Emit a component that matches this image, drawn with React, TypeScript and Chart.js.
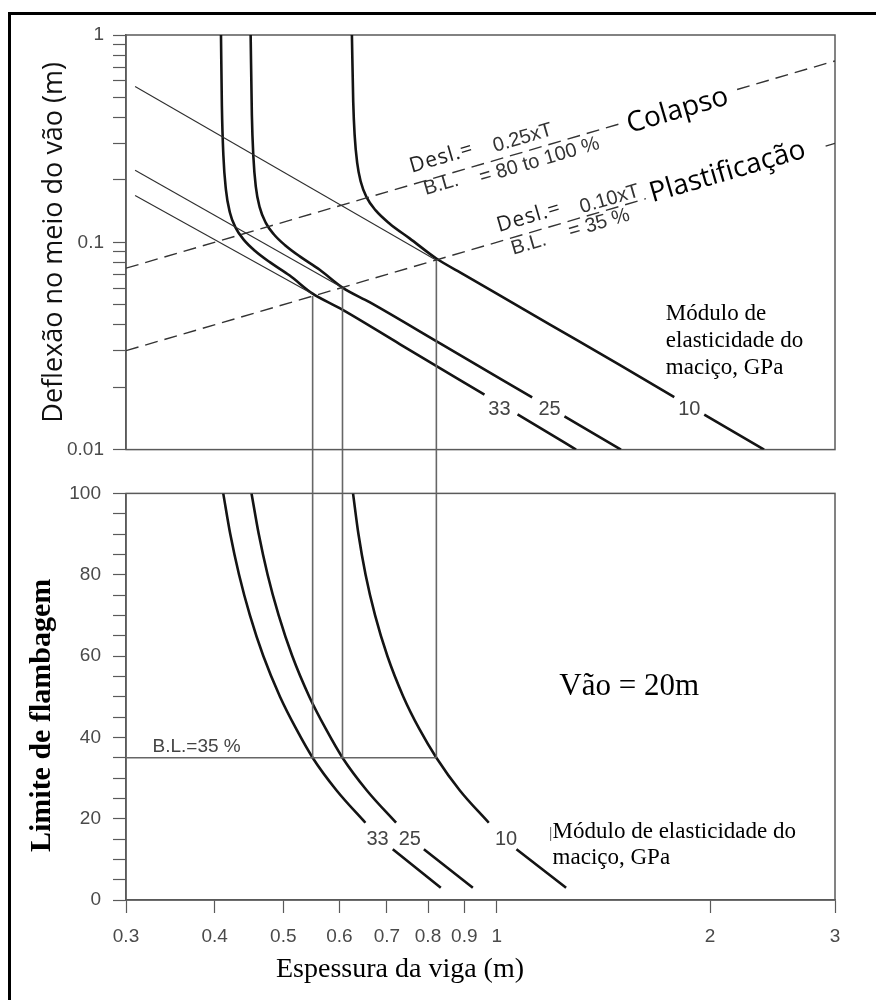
import React, { useEffect, useRef } from 'react';
import { Chart, registerables } from 'chart.js';

Chart.register(...registerables);

// ---------------- data ----------------
const X_TICKS = [0.3, 0.4, 0.5, 0.6, 0.7, 0.8, 0.9, 1, 2, 3];
const TOP_Y_TICKS = [0.01, 0.02, 0.03, 0.04, 0.05, 0.06, 0.07, 0.08, 0.09, 0.1, 0.2, 0.3, 0.4, 0.5, 0.6, 0.7, 0.8, 0.9, 1];
const TOP_Y_LABELS = [0.01, 0.1, 1];
const BOTTOM_Y_TICKS = [0, 5, 10, 15, 20, 25, 30, 35, 40, 45, 50, 55, 60, 65, 70, 75, 80, 85, 90, 95, 100];
const BOTTOM_Y_LABELS = [0, 20, 40, 60, 80, 100];
const MODULI = ['33', '25', '10'];

// Deflection at mid-span (m) vs beam thickness (m), one bold curve per modulus (null = label gap)
const DEFL_33_X = [0.4084, 0.4096, 0.4116, 0.415, 0.4204, 0.4286, 0.4399, 0.4559, 0.4786, 0.5106, 0.55, 0.6005, 0.7297, 0.961, 1.0, 1.07, 1.294];
const DEFL_33_Y = [1, 0.4539, 0.2622, 0.1795, 0.1393, 0.117, 0.1028, 0.0911, 0.0802, 0.0691, 0.0565, 0.0481, 0.0323, 0.0184, null, 0.0148, 0.01];
const DEFL_25_X = [0.4497, 0.4515, 0.4537, 0.4573, 0.4633, 0.4724, 0.4848, 0.5024, 0.5275, 0.5628, 0.606, 0.6617, 0.8309, 1.122, 1.18, 1.246, 1.497];
const DEFL_25_Y = [1, 0.4099, 0.2594, 0.1856, 0.1469, 0.1242, 0.1094, 0.0971, 0.0855, 0.0737, 0.0605, 0.0514, 0.0326, 0.01784, null, 0.01445, 0.01];
const DEFL_10_X = [0.6248, 0.6275, 0.6305, 0.6357, 0.6429, 0.6555, 0.675, 0.7064, 0.7536, 0.822, 0.9002, 1.1872, 1.4905, 1.78, 1.87, 1.962, 2.383];
const DEFL_10_Y = [1, 0.4757, 0.3262, 0.2408, 0.1965, 0.1646, 0.1425, 0.123, 0.1045, 0.0835, 0.0697, 0.0402, 0.0256, 0.0179, null, 0.01475, 0.01];

// Thin elastic asymptotes
const THIN_33_X = [0.309, 0.55];
const THIN_33_Y = [0.1683, 0.0563];
const THIN_25_X = [0.309, 0.606];
const THIN_25_Y = [0.2225, 0.0603];
const THIN_10_X = [0.309, 0.822];
const THIN_10_Y = [0.564, 0.082];

// Dashed criteria lines (Desl. = 0.25 x T and 0.10 x T), gap where the caption sits
const COLAPSO_X = [0.3, 1.512, 1.8, 2.183, 3];
const COLAPSO_Y = [0.075, 0.378, null, 0.546, 0.75];
const PLAST_X = [0.3, 1.623, 2.2, 2.91, 3];
const PLAST_Y = [0.03, 0.1623, null, 0.291, 0.3];

// Drop lines linking both panels at B.L. = 35 %
const DROP_X = [0.55, 0.606, 0.822];
const DROP_TOP_Y = [0.055, 0.0606, 0.0822];
const BL_LEVEL = 35;

// Buckling limit (%) vs beam thickness (m)
const BUCK_33_X = [0.4114, 0.4209, 0.4331, 0.4487, 0.4686, 0.4947, 0.5217, 0.55, 0.5942, 0.6528, 0.68, 0.7135, 0.8339];
const BUCK_33_Y = [100, 90, 80, 70, 60, 50, 42, 35, 27, 19, null, 12.5, 3];
const BUCK_25_X = [0.451, 0.4617, 0.4752, 0.4926, 0.5148, 0.5441, 0.5744, 0.606, 0.6555, 0.7212, 0.75, 0.7893, 0.9254];
const BUCK_25_Y = [100, 90, 80, 70, 60, 50, 42, 35, 27, 19, null, 12.5, 3];
const BUCK_10_X = [0.6271, 0.6382, 0.6532, 0.6737, 0.7011, 0.7384, 0.7781, 0.822, 0.8866, 0.9745, 1.02, 1.0662, 1.2527];
const BUCK_10_Y = [100, 90, 80, 70, 60, 50, 42, 35, 27, 19, null, 12.5, 3];

// ---------------- styles ----------------
const AXIS_COLOR = '#5a5a5a';
const TICK_TEXT = '#4a4a4a';
const BOLD = '#141414';
const THIN = '#2e2e2e';
const DROP = '#666666';
const SANS = '"Liberation Sans", Arial, sans-serif';
const OPEN = '"Open Sans", sans-serif';
const SERIF = '"Liberation Serif", "Times New Roman", serif';

const pts = (xs: number[], ys: (number | null)[]) => xs.map((x, i) => ({ x, y: ys[i] }));

const bold = (xs: number[], ys: (number | null)[]) => ({
  data: pts(xs, ys),
  borderColor: BOLD,
  borderWidth: 2.6,
  pointRadius: 0,
  cubicInterpolationMode: 'monotone' as const,
  spanGaps: false,
});
const thin = (xs: number[], ys: (number | null)[], color = THIN, width = 1.1) => ({
  data: pts(xs, ys),
  borderColor: color,
  borderWidth: width,
  pointRadius: 0,
  tension: 0,
  spanGaps: false,
});
const dashed = (xs: number[], ys: (number | null)[]) => ({
  data: pts(xs, ys),
  borderColor: '#333333',
  borderWidth: 1.4,
  borderDash: [13, 7],
  pointRadius: 0,
  tension: 0,
  spanGaps: false,
});

// ---------------- plugins ----------------
const framePlugin = {
  id: 'frame',
  beforeDatasetsDraw(chart: any) {
    const { ctx, chartArea: a } = chart;
    ctx.save();
    ctx.strokeStyle = AXIS_COLOR;
    ctx.lineWidth = 1.5;
    ctx.strokeRect(a.left, a.top, a.right - a.left, a.bottom - a.top);
    ctx.restore();
  },
};

const bridgePlugin = (dir: 'down' | 'up') => ({
  id: 'bridge-' + dir,
  afterDatasetsDraw(chart: any) {
    const { ctx, chartArea: a, scales } = chart;
    ctx.save();
    ctx.strokeStyle = DROP;
    ctx.lineWidth = 1.6;
    DROP_X.forEach((v) => {
      const px = scales.x.getPixelForValue(v);
      ctx.beginPath();
      if (dir === 'down') {
        ctx.moveTo(px, a.bottom);
        ctx.lineTo(px, chart.height);
      } else {
        ctx.moveTo(px, 0);
        ctx.lineTo(px, a.top);
      }
      ctx.stroke();
    });
    ctx.restore();
  },
});

type Note = {
  text: string;
  x: number;
  y: number;
  font: string;
  color?: string;
  align?: CanvasTextAlign;
  along?: { xs: number[]; ys: (number | null)[] };
  spacing?: string;
};

const lineAngle = (chart: any, xs: number[], ys: (number | null)[]) => {
  const { x, y } = chart.scales;
  const n = xs.length - 1;
  return Math.atan2(
    y.getPixelForValue(ys[n]) - y.getPixelForValue(ys[0]),
    x.getPixelForValue(xs[n]) - x.getPixelForValue(xs[0])
  );
};

const notesPlugin = (notes: Note[]) => ({
  id: 'notes',
  afterDatasetsDraw(chart: any) {
    const { ctx, scales } = chart;
    notes.forEach((n) => {
      ctx.save();
      ctx.translate(scales.x.getPixelForValue(n.x), scales.y.getPixelForValue(n.y));
      if (n.along) ctx.rotate(lineAngle(chart, n.along.xs, n.along.ys));
      ctx.font = n.font;
      ctx.fillStyle = n.color || '#111';
      ctx.textAlign = n.align || 'center';
      ctx.textBaseline = 'middle';
      if (n.spacing) (ctx as any).letterSpacing = n.spacing;
      ctx.fillText(n.text, 0, 0);
      ctx.restore();
    });
  },
});

const titlesPlugin = {
  id: 'titles',
  afterDraw(chart: any) {
    const { ctx, chartArea: a } = chart;
    ctx.save();
    ctx.fillStyle = '#000';
    ctx.textAlign = 'center';
    ctx.textBaseline = 'middle';
    ctx.font = `28px ${SERIF}`;
    ctx.fillText('Espessura da viga (m)', a.left + 274, a.bottom + 70);
    ctx.translate(a.left - 84, a.top + 222);
    ctx.rotate(-Math.PI / 2);
    ctx.font = `bold 30px ${SERIF}`;
    ctx.fillText('Limite de flambagem', 0, 0);
    ctx.restore();
  },
};

const COL = { xs: COLAPSO_X, ys: COLAPSO_Y };
const PLA = { xs: PLAST_X, ys: PLAST_Y };

const TOP_NOTES: Note[] = [
  { text: 'Desl.=', x: 0.836, y: 0.256, font: `21px ${OPEN}`, color: '#222', along: COL, spacing: '1px' },
  { text: '0.25xT', x: 1.088, y: 0.318, font: `20px ${SANS}`, color: '#333', along: COL },
  { text: 'B.L.', x: 0.835, y: 0.1894, font: `20px ${SANS}`, color: '#333', along: COL },
  { text: '= 80 to 100 %', x: 1.149, y: 0.2477, font: `20px ${SANS}`, color: '#333', along: COL },
  { text: 'Colapso', x: 1.799, y: 0.4315, font: `28px ${OPEN}`, color: '#000', along: COL },
  { text: 'Desl.=', x: 1.11, y: 0.1324, font: `21px ${OPEN}`, color: '#222', along: PLA, spacing: '1px' },
  { text: '0.10xT', x: 1.443, y: 0.1612, font: `20px ${SANS}`, color: '#333', along: PLA },
  { text: 'B.L.', x: 1.11, y: 0.0977, font: `20px ${SANS}`, color: '#333', along: PLA },
  { text: '= 35 %', x: 1.395, y: 0.1233, font: `20px ${SANS}`, color: '#333', along: PLA },
  { text: 'Plastificação', x: 2.117, y: 0.2184, font: `28px ${OPEN}`, color: '#000', along: PLA },
  { text: 'Módulo de', x: 1.732, y: 0.04495, font: `23px ${SERIF}`, color: '#000', align: 'left' },
  { text: 'elasticidade do', x: 1.732, y: 0.03327, font: `23px ${SERIF}`, color: '#000', align: 'left' },
  { text: 'maciço, GPa', x: 1.732, y: 0.02465, font: `23px ${SERIF}`, color: '#000', align: 'left' },
  { text: MODULI[0], x: 1.009, y: 0.01553, font: `20px ${SANS}`, color: '#444' },
  { text: MODULI[1], x: 1.187, y: 0.01553, font: `20px ${SANS}`, color: '#444' },
  { text: MODULI[2], x: 1.869, y: 0.01553, font: `20px ${SANS}`, color: '#444' },
];

const BOTTOM_NOTES: Note[] = [
  { text: 'B.L.=35 %', x: 0.327, y: 37.8, font: `19px ${SANS}`, color: '#444', align: 'left' },
  { text: 'Vão = 20m', x: 1.2255, y: 52.5, font: `31px ${SERIF}`, color: '#000', align: 'left' },
  { text: '|', x: 1.191, y: 16.1, font: `14px ${SANS}`, color: '#777', align: 'center' },
  { text: 'Módulo de elasticidade do', x: 1.199, y: 16.8, font: `23px ${SERIF}`, color: '#000', align: 'left' },
  { text: 'maciço, GPa', x: 1.199, y: 10.3, font: `23px ${SERIF}`, color: '#000', align: 'left' },
  { text: MODULI[0], x: 0.679, y: 15, font: `20px ${SANS}`, color: '#444' },
  { text: MODULI[1], x: 0.754, y: 15, font: `20px ${SANS}`, color: '#444' },
  { text: MODULI[2], x: 1.031, y: 15, font: `20px ${SANS}`, color: '#444' },
];

const yAxisCommon = (ticks: number[], labels: number[], pad: number) => ({
  position: 'left' as const,
  afterBuildTicks: (s: any) => {
    s.ticks = ticks.map((v) => ({ value: v }));
  },
  afterFit: (s: any) => {
    s.width = 126;
  },
  grid: { drawOnChartArea: false, drawTicks: true, tickLength: 13, tickColor: AXIS_COLOR, tickWidth: 1.2 },
  border: { display: true, color: AXIS_COLOR, width: 1.5 },
  ticks: {
    autoSkip: false,
    padding: pad,
    color: TICK_TEXT,
    font: { family: SANS, size: 19 },
    callback: (v: any) => (labels.includes(Number(v)) ? String(v) : ''),
  },
});

export default function App() {
  const topRef = useRef<HTMLCanvasElement>(null);
  const botRef = useRef<HTMLCanvasElement>(null);

  useEffect(() => {
    const topChart = new Chart(topRef.current as HTMLCanvasElement, {
      type: 'line',
      data: {
        datasets: [
          dashed(COLAPSO_X, COLAPSO_Y),
          dashed(PLAST_X, PLAST_Y),
          thin(THIN_33_X, THIN_33_Y),
          thin(THIN_25_X, THIN_25_Y),
          thin(THIN_10_X, THIN_10_Y),
          ...DROP_X.map((v, i) => thin([v, v], [DROP_TOP_Y[i], TOP_Y_TICKS[0]], DROP, 1.6)),
          bold(DEFL_33_X, DEFL_33_Y),
          bold(DEFL_25_X, DEFL_25_Y),
          bold(DEFL_10_X, DEFL_10_Y),
        ] as any,
      },
      options: {
        responsive: false,
        animation: false,
        layout: { padding: { left: 0, right: 41, top: 35, bottom: 6 } },
        plugins: { legend: { display: false }, tooltip: { enabled: false } },
        scales: {
          x: { type: 'logarithmic', min: 0.3, max: 3, display: false },
          y: {
            type: 'logarithmic',
            min: 0.01,
            max: 1,
            ...yAxisCommon(TOP_Y_TICKS, TOP_Y_LABELS, 9),
            title: {
              display: true,
              text: 'Deflexão no meio do vão (m)',
              color: '#111',
              font: { family: OPEN, size: 27 },
              padding: { top: 38, bottom: 0 },
            },
          } as any,
        },
      },
      plugins: [framePlugin, bridgePlugin('down'), notesPlugin(TOP_NOTES)],
    });

    const botChart = new Chart(botRef.current as HTMLCanvasElement, {
      type: 'line',
      data: {
        datasets: [
          thin([X_TICKS[0], DROP_X[2]], [BL_LEVEL, BL_LEVEL], DROP, 1.6),
          ...DROP_X.map((v) => thin([v, v], [BOTTOM_Y_TICKS[BOTTOM_Y_TICKS.length - 1], BL_LEVEL], DROP, 1.6)),
          bold(BUCK_33_X, BUCK_33_Y),
          bold(BUCK_25_X, BUCK_25_Y),
          bold(BUCK_10_X, BUCK_10_Y),
        ] as any,
      },
      options: {
        responsive: false,
        animation: false,
        layout: { padding: { left: 0, right: 41, top: 14, bottom: 0 } },
        plugins: { legend: { display: false }, tooltip: { enabled: false } },
        scales: {
          x: {
            type: 'logarithmic',
            min: 0.3,
            max: 3,
            afterBuildTicks: (s: any) => {
              s.ticks = X_TICKS.map((v) => ({ value: v }));
            },
            afterFit: (s: any) => {
              s.height = 100;
            },
            grid: { drawOnChartArea: false, drawTicks: true, tickLength: 13, tickColor: AXIS_COLOR, tickWidth: 1.2 },
            border: { display: true, color: AXIS_COLOR, width: 1.5 },
            ticks: {
              autoSkip: false,
              maxRotation: 0,
              padding: 12,
              color: TICK_TEXT,
              font: { family: SANS, size: 19 },
              callback: (v: any) => String(v),
            },
          } as any,
          y: {
            type: 'linear',
            min: 0,
            max: 100,
            ...yAxisCommon(BOTTOM_Y_TICKS, BOTTOM_Y_LABELS, 12),
          } as any,
        },
      },
      plugins: [framePlugin, bridgePlugin('up'), notesPlugin(BOTTOM_NOTES), titlesPlugin],
    });

    return () => {
      topChart.destroy();
      botChart.destroy();
    };
  }, []);

  return (
    <div
      style={{
        position: 'absolute',
        left: 0,
        top: 0,
        width: 876,
        height: 1000,
        background: '#fff',
        overflow: 'hidden',
      }}
    >
      <div
        style={{
          position: 'absolute',
          left: 8,
          top: 12,
          width: 868,
          height: 988,
          borderTop: '3px solid #000',
          borderLeft: '3px solid #000',
          boxSizing: 'border-box',
        }}
      />
      <canvas ref={topRef} width={876} height={470} style={{ position: 'absolute', left: 0, top: 0 }} />
      <canvas ref={botRef} width={876} height={530} style={{ position: 'absolute', left: 0, top: 470 }} />
    </div>
  );
}
